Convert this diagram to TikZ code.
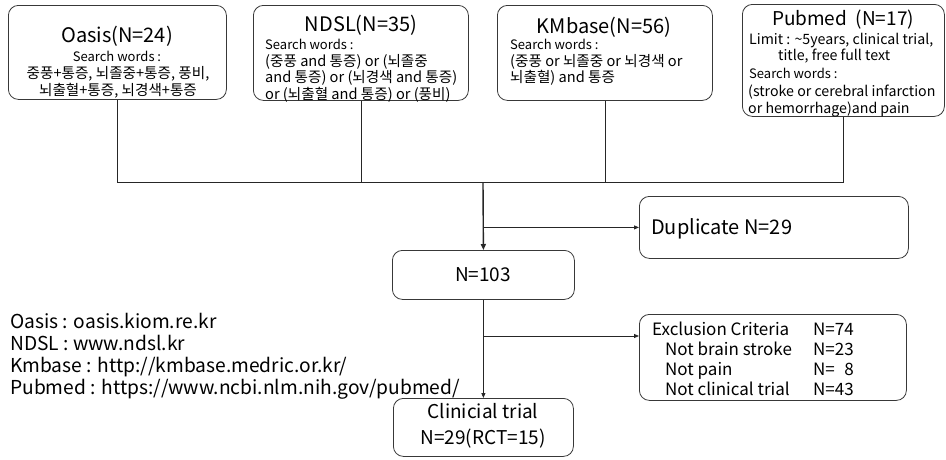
\documentclass[tikz,border=0pt]{standalone}
\usepackage{fontspec}
\setmainfont{Noto Sans CJK KR}
\usetikzlibrary{arrows.meta}
\begin{document}
\begin{tikzpicture}[x=1pt,y=-1pt,
  box/.style={draw=black!78, line width=0.8pt, rounded corners=10pt, inner sep=0pt, anchor=north west},
  conn/.style={draw=black!85, line width=0.8pt},
  mainarr/.style={conn, line width=1.4pt, -{Triangle[length=6pt,width=5pt]}},
  arr/.style={conn, -{Triangle[length=5pt,width=4pt]}},
  tc/.style={inner sep=0pt, anchor=base},
  tl/.style={inner sep=0pt, anchor=base west},
  ttl/.style={font=\fontsize{20}{24}\selectfont},
  ttlp/.style={font=\fontsize{19}{23}\selectfont},
  bd/.style={font=\fontsize{13}{16}\selectfont},
  kr/.style={font=\fontsize{14.6}{17}\selectfont},
  bdp/.style={font=\fontsize{14.2}{17}\selectfont},
  dupf/.style={font=\fontsize{20}{24}\selectfont},
  mid/.style={font=\fontsize{19}{22}\selectfont},
  trf/.style={font=\fontsize{19}{23}\selectfont},
  exf/.style={font=\fontsize{17}{20}\selectfont},
  side/.style={font=\fontsize{19.2}{22}\selectfont},
]
\useasboundingbox (0,0) rectangle (946,459);
\fill[white] (0,0) rectangle (946,459);

% ---- top boxes
\node[box, minimum width=218pt, minimum height=94pt] (oasis) at (8,5) {};
\node[box, minimum width=215pt, minimum height=95pt] (ndsl) at (253,5) {};
\node[box, minimum width=215pt, minimum height=95pt] (kmbase) at (497,5) {};
\node[box, minimum width=202pt, minimum height=112pt] (pubmed) at (742,4) {};

% Oasis text
\node[tc, ttl] (oasis-t) at (117,42) {Oasis(N=24)};
\node[tc, bd] (oasis-1) at (117,61.5) {Search words :};
\node[tc, kr] (oasis-2) at (118,78.5) {중풍+통증, 뇌졸중+통증, 풍비,};
\node[tc, kr] (oasis-3) at (118,95) {뇌출혈+통증, 뇌경색+통증};

% NDSL text
\node[tc, ttl] (ndsl-t) at (361,31) {NDSL(N=35)};
\node[tl, bd] (ndsl-1) at (265,49.5) {Search words :};
\node[tl, kr] (ndsl-2) at (265,66) {(중풍 and 통증) or (뇌졸중};
\node[tl, kr] (ndsl-3) at (265,82.5) {and 통증) or (뇌경색 and 통증)};
\node[tl, kr] (ndsl-4) at (265,99) {or (뇌출혈 and 통증) or (풍비)};

% KMbase text
\node[tc, ttl] (km-t) at (604,33) {KMbase(N=56)};
\node[tl, bd] (km-1) at (510,49.5) {Search words :};
\node[tl, kr] (km-2) at (510,66) {(중풍 or 뇌졸중 or 뇌경색 or};
\node[tl, kr] (km-3) at (510,82.5) {뇌출혈) and 통증};

% Pubmed text
\node[tc, ttlp] (pub-t) at (843,25) {Pubmed\ \ (N=17)};
\node[tl, bdp] (pub-1) at (749,44) {Limit : \textasciitilde 5years, clinical trial,};
\node[tl, bdp] (pub-2) at (778,60) {title, free full text};
\node[tl, bd] (pub-3) at (749,78) {Search words :};
\node[tl, bdp] (pub-4) at (748,96) {(stroke or cerebral infarction};
\node[tl, bdp] (pub-5) at (748,113) {or hemorrhage)and pain};

% ---- middle boxes
\node[box, minimum width=269pt, minimum height=62pt] (dup) at (639,196) {};
\node[tl, dupf] (dup-t) at (651,234) {Duplicate N=29};

\node[box, minimum width=182pt, minimum height=49pt] (n103) at (392,250) {};
\node[tc, mid] (n103-t) at (483,281) {N=103};

\node[box, minimum width=267pt, minimum height=86pt] (excl) at (639,314) {};
\node[tl, exf] (ex-1) at (652,335) {Exclusion Criteria};
\node[tl, exf] (ex-2) at (665,355) {Not brain stroke};
\node[tl, exf] (ex-3) at (665,375) {Not pain};
\node[tl, exf] (ex-4) at (665,395) {Not clinical trial};
\node[tl, exf] (exn-1) at (813,335) {N=74};
\node[tl, exf] (exn-2) at (813,355) {N=23};
\node[tl, exf] (exn-3) at (813,375) {N=\phantom{0}8};
\node[tl, exf] (exn-4) at (813,395) {N=43};

\node[box, minimum width=180pt, minimum height=58pt] (trial) at (393,398) {};
\node[tc, trf] (trial-1) at (483,418) {Clinicial trial};
\node[tc, trf] (trial-2) at (483,444) {N=29(RCT=15)};

% ---- side notes
\node[tl, side] (note-1) at (10,328) {Oasis : oasis.kiom.re.kr};
\node[tl, side] (note-2) at (10,350) {NDSL : www.ndsl.kr};
\node[tl, side] (note-3) at (10,372) {Kmbase : http://kmbase.medric.or.kr/};
\node[tl, side] (note-4) at (10,394) {Pubmed : https://www.ncbi.nlm.nih.gov/pubmed/};

% ---- connectors
\coordinate (bus) at (483,182);
\coordinate (exy) at (483,336);
\draw[conn] (oasis.south) -- (oasis.south |- bus) -- (pubmed.south |- bus) -- (pubmed.south);
\draw[conn] (ndsl.south) -- (ndsl.south |- bus);
\draw[conn] (kmbase.south) -- (kmbase.south |- bus);
\draw[mainarr] (bus) -- (n103.north);
\draw[arr] (bus |- dup.west) -- (dup.west);
\draw[arr] (n103.south) -- (trial.north);
\draw[arr] (exy) -- (excl.west |- exy);
\end{tikzpicture}
\end{document}
